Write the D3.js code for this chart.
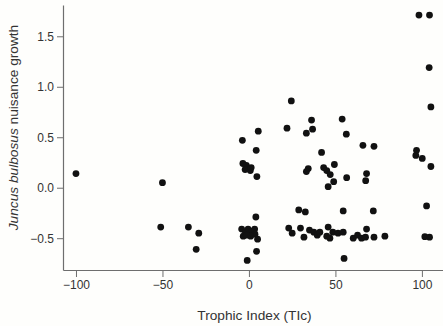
<!DOCTYPE html>
<html>
<head>
<meta charset="utf-8">
<script src="https://cdn.jsdelivr.net/npm/d3@7"></script>
<style>
  html, body { margin: 0; padding: 0; background: #fefefc; }
  svg { display: block; }
</style>
</head>
<body>
<script>
// ---- Data ----
const trophicIndex = [
  -100, -50, -51, -35, -29, -30.5, -1,
  5.4, -3.8, 4.2, -3.5, -1.5, -2.2, 0.8, 1.3, 4.6, 4, 5, 4.4,
  -4.2, -3.3, -2, -0.5, 0.5, 2, 3.3, 3.5, 1, -1.5,
  24.5, 22, 36.2, 33.2, 36.8, 53.9, 56.3, 42, 34.3, 33.2, 43.2, 45, 47, 49.4, 49, 45.8, 56.5,
  65.9, 72.3, 68, 67.5,
  28.8, 32.6, 54.5, 71.9,
  23, 25, 29.8, 31.8, 35, 37.5, 39.5, 41, 45.8, 45, 46.8, 48.5, 51.5, 54.5, 55,
  60.3, 62.8, 65.1, 67.4, 68, 72.3, 78.6,
  98.3, 104.4, 104.2, 105.2, 96.9, 96.5, 100.2, 105.2, 102.7, 101.7, 104.4
];
const nuisanceGrowth = [
  0.14, 0.05, -0.39, -0.39, -0.45, -0.61, -0.72,
  0.56, 0.47, 0.37, 0.24, 0.22, 0.18, 0.17, 0.2, 0.11, -0.29, -0.51, -0.63,
  -0.41, -0.48, -0.44, -0.41, -0.45, -0.43, -0.41, -0.46, -0.48, -0.47,
  0.86, 0.59, 0.67, 0.54, 0.58, 0.68, 0.53, 0.35, 0.19, 0.16, 0.2, 0.17, 0.13, 0.23, 0.06, 0.01, 0.10,
  0.42, 0.41, 0.14, 0.07,
  -0.22, -0.24, -0.23, -0.23,
  -0.40, -0.45, -0.40, -0.49, -0.42, -0.44, -0.47, -0.44, -0.39, -0.48, -0.50, -0.44, -0.45, -0.44, -0.70,
  -0.50, -0.47, -0.50, -0.49, -0.41, -0.49, -0.48,
  1.71, 1.71, 1.19, 0.80, 0.37, 0.32, 0.29, 0.21, -0.18, -0.485, -0.49
];
const xTicks = [-100, -50, 0, 50, 100];
const yTicks = [-0.5, 0.0, 0.5, 1.0, 1.5];
const xTitle = "Trophic Index (TIc)";
const yTitleItalic = "Juncus bulbosus";
const yTitleRest = " nuisance growth";

// ---- Layout ----
const W = 443, H = 326;
const plot = { left: 63, right: 443, top: 5, bottom: 270 };

const svg = d3.select("body").append("svg")
  .attr("width", W).attr("height", H);

svg.append("rect").attr("width", W).attr("height", H).attr("fill", "#fefefc");

const x = d3.scaleLinear().domain([-107.5, 112.2]).range([plot.left, plot.right]);
const y = d3.scaleLinear().domain([-0.815, 1.81]).range([plot.bottom, plot.top]);

const axisColor = "#6e6e6e";
const textColor = "#333";
const fontFam = "'Liberation Sans', Arial, Helvetica, sans-serif";

// X axis
const gx = svg.append("g")
  .attr("transform", `translate(0,${plot.bottom})`)
  .call(d3.axisBottom(x).tickValues(xTicks).tickSizeInner(7).tickSizeOuter(0).tickPadding(3)
    .tickFormat(d3.format("d")));
gx.select(".domain").attr("stroke", axisColor).attr("stroke-width", 1.2);
gx.selectAll(".tick line").attr("stroke", axisColor).attr("stroke-width", 1);
gx.selectAll(".tick text").attr("fill", textColor).attr("font-size", 12).attr("font-family", fontFam);

// Y axis
const gy = svg.append("g")
  .attr("transform", `translate(${plot.left},0)`)
  .call(d3.axisLeft(y).tickValues(yTicks).tickSizeInner(6).tickSizeOuter(0).tickPadding(3)
    .tickFormat(d3.format(".1f")));
gy.select(".domain").attr("stroke", axisColor).attr("stroke-width", 1.2);
gy.selectAll(".tick line").attr("stroke", axisColor).attr("stroke-width", 1);
gy.selectAll(".tick text").attr("fill", textColor).attr("font-size", 12).attr("font-family", fontFam);

// Axis titles
svg.append("text")
  .attr("x", 254.5).attr("y", 319.5)
  .attr("text-anchor", "middle")
  .attr("font-size", 13.7).attr("font-family", fontFam).attr("fill", textColor)
  .text(xTitle);

const yt = svg.append("text")
  .attr("transform", "translate(18,127.5) rotate(-90)")
  .attr("text-anchor", "middle")
  .attr("font-size", 13.7).attr("font-family", fontFam).attr("fill", textColor);
yt.append("tspan").attr("font-style", "italic").text(yTitleItalic);
yt.append("tspan").text(yTitleRest);

// Points
const data = trophicIndex.map((v, i) => ({ x: v, y: nuisanceGrowth[i] }));
svg.append("g").selectAll("circle").data(data).join("circle")
  .attr("cx", d => x(d.x))
  .attr("cy", d => y(d.y))
  .attr("r", 3.4)
  .attr("fill", "#111");
</script>
</body>
</html>
